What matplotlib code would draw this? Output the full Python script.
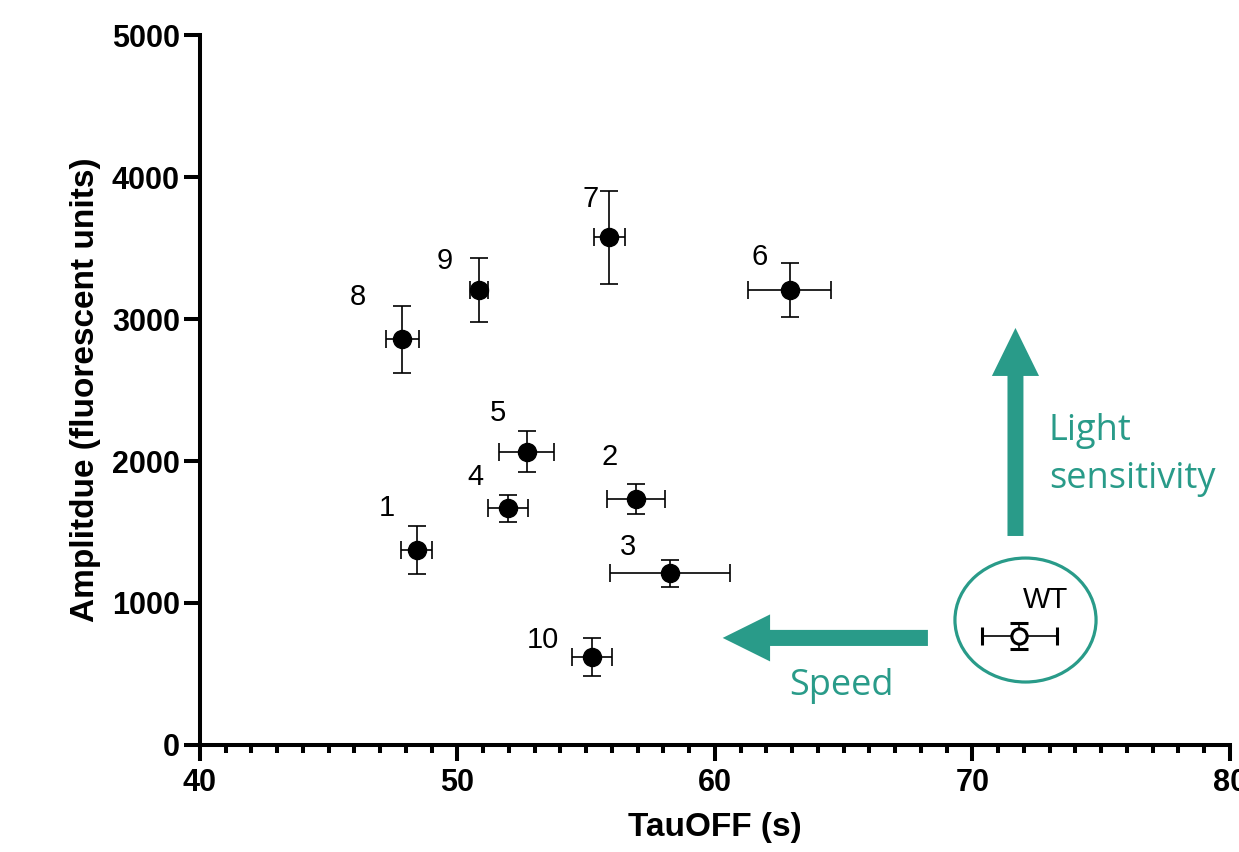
import matplotlib
matplotlib.use('Agg')
import matplotlib.pyplot as plt
from matplotlib.patches import Ellipse, FancyArrow
from matplotlib.ticker import MultipleLocator

############################## data ##
mutants = ['1', '2', '3', '4', '5', '6', '7', '8', '9', '10']
tau_off = [48.41, 56.93, 58.26, 51.97, 52.69, 62.90, 55.90, 47.86, 50.83, 55.24]
tau_off_err = [0.62, 1.12, 2.32, 0.77, 1.07, 1.62, 0.59, 0.63, 0.35, 0.78]
amplitude = [1373, 1734, 1209, 1667, 2066, 3204, 3575, 2857, 3204, 620]
amplitude_err = [167, 106, 95, 96, 145, 190, 329, 238, 227, 135]

wt_tau = [71.82]
wt_tau_err = [1.46]
wt_amp = [768]
wt_amp_err = [93]

# label offsets (points) relative to each marker
label_offsets = [(-21.6, 30), (-18.7, 30.2), (-30.2, 18.7), (-23.5, 22.3), (-20.4, 28),
                 (-21.4, 23.8), (-13.4, 27.4), (-31.7, 30.2), (-24.5, 21.1), (-35.5, 12.2)]

teal = '#299B89'
plt.rcParams['font.family'] = ['Liberation Sans', 'DejaVu Sans']

fig = plt.figure(figsize=(12.39, 8.52), dpi=100)
ax = fig.add_axes([0.1614, 0.1256, 0.8313, 0.8333])

ax.errorbar(tau_off, amplitude, xerr=tau_off_err, yerr=amplitude_err, fmt='o',
            color='black', ms=13, elinewidth=1.2, capsize=6.5, capthick=1.2, zorder=3)
ax.errorbar(wt_tau, wt_amp, xerr=wt_tau_err, yerr=wt_amp_err, fmt='o',
            mfc='white', mec='black', mew=2.2, color='black', ms=11,
            elinewidth=1.2, capsize=6.5, capthick=1.2, zorder=3)

for lab, x, y, off in zip(mutants, tau_off, amplitude, label_offsets):
    ax.annotate(lab, (x, y), xytext=off, textcoords='offset points',
                ha='center', va='center', fontsize=21)
ax.annotate('WT', (wt_tau[0], wt_amp[0]), xytext=(19.2, 25.9), textcoords='offset points',
            ha='center', va='center', fontsize=21)

# teal annotations
ax.add_patch(Ellipse((72.06, 880), 5.48, 873, fill=False, ec=teal, lw=2.3, zorder=2))
ax.add_patch(FancyArrow(71.67, 1472, 0, 1465, width=0.62, head_width=1.83,
                        head_length=338, length_includes_head=True, color=teal, lw=0))
ax.add_patch(FancyArrow(68.27, 754, -7.97, 0, width=113, head_width=331,
                        head_length=1.84, length_includes_head=True, color=teal, lw=0))
ax.text(72.97, 2148, 'Light', color=teal, fontsize=26, family='Open Sans', va='baseline')
ax.text(72.97, 1810, 'sensitivity', color=teal, fontsize=26, family='Open Sans', va='baseline')
ax.text(64.93, 352, 'Speed', color=teal, fontsize=26, family='Open Sans', va='baseline', ha='center')

ax.set_xlim(40, 80)
ax.set_ylim(0, 5000)
ax.set_xticks([40, 50, 60, 70, 80])
ax.set_yticks([0, 1000, 2000, 3000, 4000, 5000])
ax.xaxis.set_minor_locator(MultipleLocator(1))

ax.spines['right'].set_visible(False)
ax.spines['top'].set_visible(False)
for s in ['left', 'bottom']:
    ax.spines[s].set_linewidth(2.9)

ax.tick_params(axis='both', which='major', width=2.9, length=11.5, labelsize=22)
ax.tick_params(axis='x', which='major', pad=5)
ax.tick_params(axis='y', which='major', pad=3)
ax.tick_params(axis='x', which='minor', width=2.9, length=6)
for t in ax.get_xticklabels() + ax.get_yticklabels():
    t.set_fontweight('bold')

ax.set_xlabel('TauOFF (s)', fontsize=24, fontweight='bold', labelpad=10)
ax.set_ylabel('Amplitdue (fluorescent units)', fontsize=24, fontweight='bold', labelpad=8)

fig.savefig('out.png', dpi=100)
